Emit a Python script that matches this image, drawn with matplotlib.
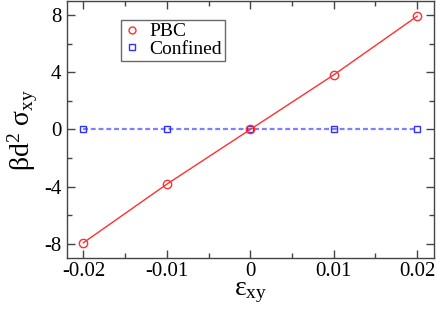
import matplotlib
matplotlib.use("Agg")
import matplotlib.pyplot as plt
from matplotlib.ticker import MultipleLocator

strain = [-0.02, -0.01, 0.0, 0.01, 0.02]
stress_pbc = [-7.93, -3.83, 0.0, 3.82, 7.93]
stress_confined = [0.0, 0.0, 0.0, 0.0, 0.0]
x_ticks = [-0.02, -0.01, 0.0, 0.01, 0.02]
x_tick_labels = ["-0.02", "-0.01", "0", "0.01", "0.02"]
y_ticks = [-8, -4, 0, 4, 8]
y_tick_labels = ["-8", "-4", "0", "4", "8"]

plt.rcParams['font.family'] = ['Liberation Serif', 'DejaVu Serif']
plt.rcParams['mathtext.fontset'] = 'custom'
plt.rcParams['mathtext.rm'] = 'Liberation Serif'
plt.rcParams['mathtext.it'] = 'Liberation Serif'

fig = plt.figure(figsize=(4.36, 3.09), dpi=100)
ax = fig.add_axes([0.153, 0.165, 0.842, 0.832])

ax.plot(strain, stress_confined, color='#7f7fff', lw=1.6, ls=(0, (2.2, 1.3)), zorder=2)
ax.plot(strain, stress_confined, ls='none', marker='s', ms=5, mfc='none',
        mec='#3030ff', mew=1.0, zorder=3)
ax.plot(strain, stress_pbc, color='#ff3030', lw=1.0, zorder=4)
ax.plot(strain, stress_pbc, ls='none', marker='o', ms=6, mfc='none',
        mec='#ff3030', mew=1.0, zorder=5)

# legend entries (markers only)
h1, = ax.plot([], [], ls='none', marker='o', ms=5, mfc='none', mec='#ff3030', mew=1.0)
h2, = ax.plot([], [], ls='none', marker='s', ms=4.5, mfc='none', mec='#3030ff', mew=1.0)
leg = ax.legend([h1, h2], ['PBC', 'Confined'], loc='upper left',
                bbox_to_anchor=(0.148, 0.926), fontsize=14, frameon=True,
                fancybox=False, handlelength=0.8, handletextpad=0.5,
                borderpad=0.15, labelspacing=0.0, borderaxespad=0)
leg.get_frame().set_edgecolor('#444444')
leg.get_frame().set_linewidth(1.0)

ax.set_xlim(-0.022, 0.022)
ax.set_ylim(-9, 9)
ax.set_xticks(x_ticks)
ax.set_xticklabels(x_tick_labels)
ax.set_yticks(y_ticks)
ax.set_yticklabels(y_tick_labels)
ax.xaxis.set_minor_locator(MultipleLocator(0.005))
ax.yaxis.set_minor_locator(MultipleLocator(2))
ax.tick_params(which='both', direction='in', top=True, right=True,
               labelsize=15, color='#444444', width=1.0)
ax.tick_params(which='major', length=6, pad=4)
ax.tick_params(axis='x', which='major', pad=3)
ax.tick_params(which='minor', length=3.5)
for s in ax.spines.values():
    s.set_color('#444444')
    s.set_linewidth(1.0)

ax.set_xlabel(r'$\mathrm{\epsilon_{xy}}$', fontsize=20, labelpad=-1)
ax.set_ylabel(r'$\mathrm{\beta d^2\ \sigma_{xy}}$', fontsize=20, labelpad=3)

fig.savefig('out.png', dpi=100)
